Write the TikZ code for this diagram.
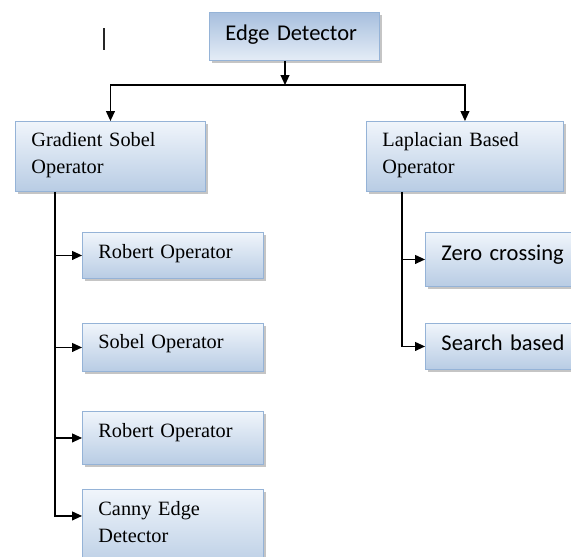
\documentclass[tikz,border=0pt]{standalone}
\usepackage{fontspec}
\setmainfont{Liberation Serif}
\newfontfamily\calibrifont{Carlito}
\usepackage{xcolor}
\usepackage{tikz}
\usetikzlibrary{arrows.meta, shadows, positioning}
\definecolor{boxline}{RGB}{149,179,215}
\definecolor{boxlight}{RGB}{240,245,251}
\definecolor{boxblue}{RGB}{184,204,228}
\definecolor{boxdark}{RGB}{167,191,222}
\newcommand{\serifbox}{\fontsize{20.3}{26.5}\selectfont}
\newcommand{\sansbox}{\calibrifont\fontsize{22.5}{27}\selectfont}
\tikzset{
  % riquadri
  box/.style={rectangle,draw=boxline,line width=0.9pt,top color=boxlight,bottom color=boxblue,
    drop shadow={shadow xshift=2.5pt,shadow yshift=-2.5pt,fill=black!45,opacity=0.5},
    anchor=north west,inner xsep=16pt,inner ysep=0pt,align=left,font=\serifbox},
  box root/.style={box,top color=boxdark,bottom color=boxlight!80!boxblue,font=\sansbox},
  box sans/.style={box,font=\sansbox},
  % connessioni
  conn arrow/.style={-{Triangle[length=10pt,width=9pt]},line width=1.1pt,black}
}
\begin{document}
\begin{tikzpicture}[x=1pt,y=-1pt]
  \fill[white] (0,0) rectangle (571,557);
  \useasboundingbox (0,0) rectangle (571,557);
  \draw[line width=1.6pt,black!85] (104,28) -- (104,50);
  % livello 1
  \node[box root,text width=138pt,text height=28pt,text depth=20pt] (Edge) at (209,12) {Edge Detector};
  % livello 2
  \node[box,text width=158pt,text height=25.5pt,text depth=44.5pt] (Grad) at (15,121) {Gradient Sobel\\Operator};
  \node[box,text width=165pt,text height=25.5pt,text depth=44.5pt] (Lap) at (366,121) {Laplacian Based\\Operator};
  % operatori a gradiente
  \node[box,text width=149pt,text height=26pt,text depth=20pt] (Rob1) at (82,232) {Robert Operator};
  \node[box,text width=149pt,text height=25pt,text depth=23pt] (Sob) at (82,323) {Sobel Operator};
  \node[box,text width=149pt,text height=26pt,text depth=27pt] (Rob2) at (82,411) {Robert Operator};
  \node[box,text width=149pt,text height=26.5pt,text depth=55pt] (Canny) at (82,489) {Canny Edge\\Detector};
  % operatori laplaciani
  \node[box sans,text width=138pt,text height=28pt,text depth=26pt] (Zero) at (425,232) {Zero crossing};
  \node[box sans,text width=138pt,text height=27pt,text depth=19pt] (Search) at (425,323) {Search based};
  % frecce
  \coordinate (split) at (285,85);
  \coordinate (gbus) at (55,0);
  \coordinate (lbus) at (402,0);
  \draw[conn arrow] (Edge.south -| split) -- (split);
  \draw[conn arrow] (split) -| (Grad.north);
  \draw[conn arrow] (split) -| (Lap.north);
  \draw[conn arrow] (gbus |- Grad.south) |- (Canny.base west);
  \foreach \n in {Rob1,Sob,Rob2}
    \draw[conn arrow] (gbus |- \n.west) -- (\n.west);
  \draw[conn arrow] (lbus |- Lap.south) |- (Search.west);
  \draw[conn arrow] (lbus |- Zero.west) -- (Zero.west);
\end{tikzpicture}
\end{document}
